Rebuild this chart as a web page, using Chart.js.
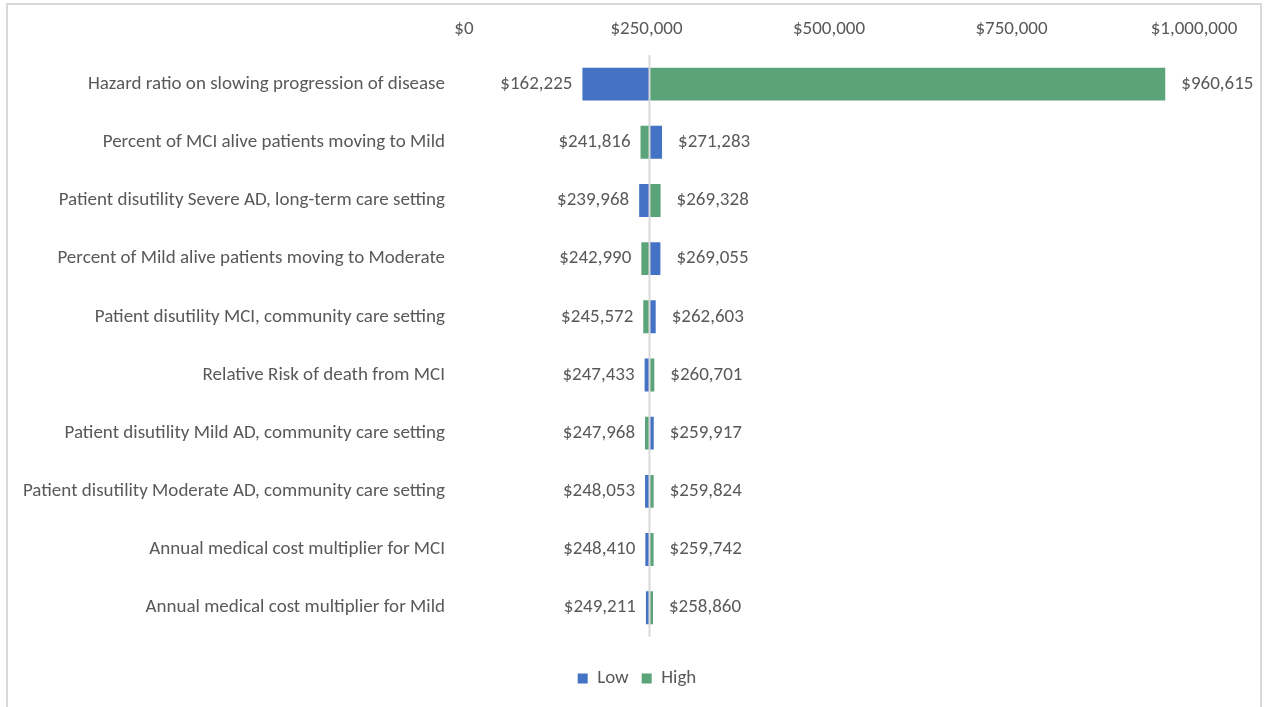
<!DOCTYPE html>
<html>
<head>
<meta charset="utf-8">
<script src="https://cdn.jsdelivr.net/npm/chart.js@4.4.1/dist/chart.umd.min.js"></script>
<style>
  html, body { margin: 0; padding: 0; background: #fff; overflow: hidden; }
  #frame { position: absolute; left: 6px; top: 3px; width: 1252px; height: 730px; border: 2px solid #d9d9d9; }
  #wrap { position: absolute; left: 0; top: 0; width: 1265px; height: 707px; }
</style>
</head>
<body>
<div id="frame"></div>
<div id="wrap"><canvas id="tornado" width="1265" height="707"></canvas></div>
<script>
// данные для торнадо-диаграммы
const categories = [
  'Hazard ratio on slowing progression of disease',
  'Percent of MCI alive patients moving to Mild',
  'Patient disutility Severe AD, long-term care setting',
  'Percent of Mild alive patients moving to Moderate',
  'Patient disutility MCI, community care setting',
  'Relative Risk of death from MCI',
  'Patient disutility Mild AD, community care setting',
  'Patient disutility Moderate AD, community care setting',
  'Annual medical cost multiplier for MCI',
  'Annual medical cost multiplier for Mild'
];
const baseValue = 253600;
const lowResults = [162225, 271283, 239968, 269055, 262603, 247433, 259917, 248053, 248410, 249211];
const highResults = [960615, 241816, 269328, 242990, 245572, 260701, 247968, 259824, 259742, 258860];
const xTicks = [0, 250000, 500000, 750000, 1000000];

const FONT = "Carlito, Calibri, 'Liberation Sans', sans-serif";
const TEXT = '#595959';
const money = v => '$' + Math.round(v).toLocaleString('en-US');

// бары от базового значения до результата
const toRange = v => [Math.min(baseValue, v), Math.max(baseValue, v)];

const valueLabels = {
  id: 'valueLabels',
  afterDatasetsDraw(chart) {
    const { ctx, scales: { x, y } } = chart;
    ctx.save();
    ctx.font = '19px ' + FONT;
    ctx.fillStyle = TEXT;
    ctx.textBaseline = 'middle';
    categories.forEach((c, i) => {
      const py = y.getPixelForValue(i);
      const lo = Math.min(lowResults[i], highResults[i]);
      const hi = Math.max(lowResults[i], highResults[i]);
      ctx.textAlign = 'right';
      ctx.fillText(money(lo), x.getPixelForValue(lo) - 10, py);
      ctx.textAlign = 'left';
      ctx.fillText(money(hi), x.getPixelForValue(hi) + 16, py);
    });
    ctx.restore();
  }
};

const baseLine = {
  id: 'baseLine',
  afterDatasetsDraw(chart) {
    const { ctx, chartArea, scales: { x } } = chart;
    const px = Math.round(x.getPixelForValue(baseValue)) + 0.5;
    ctx.save();
    ctx.strokeStyle = '#d9d9d9';
    ctx.lineWidth = 2;
    ctx.beginPath();
    ctx.moveTo(px, chartArea.top);
    ctx.lineTo(px, chartArea.bottom);
    ctx.stroke();
    ctx.restore();
  }
};

// легенда в Excel по центру всей рамки, сдвигаем вправо
const shiftLegend = {
  id: 'shiftLegend',
  afterLayout(chart) {
    chart.legend.left += 36;
    chart.legend.right += 36;
  }
};

const tornado = new Chart(document.getElementById('tornado'), {
  type: 'bar',
  data: {
    labels: categories,
    datasets: [{
      label: 'Low',
      data: lowResults.map(toRange),
      backgroundColor: '#4472C4',
      grouped: false,
      barPercentage: 0.565,
      categoryPercentage: 1
    }, {
      label: 'High',
      data: highResults.map(toRange),
      backgroundColor: '#5BA378',
      grouped: false,
      barPercentage: 0.565,
      categoryPercentage: 1
    }]
  },
  options: {
    indexAxis: 'y',
    responsive: false,
    animation: false,
    layout: { padding: { left: 8, right: 71, top: 0, bottom: 9 } },
    scales: {
      x: {
        position: 'top',
        min: 0,
        max: 1000000,
        grid: { display: false, drawTicks: false },
        border: { display: false },
        afterBuildTicks: s => { s.ticks = xTicks.map(v => ({ value: v })); },
        afterFit: s => { s.height = 55; },
        ticks: {
          padding: 14,
          color: TEXT,
          font: { family: FONT, size: 19 },
          callback: v => money(v)
        }
      },
      y: {
        grid: { display: false, drawTicks: false },
        border: { display: false },
        afterFit: s => { s.width = 456; },
        ticks: {
          padding: 19,
          color: TEXT,
          font: { family: FONT, size: 19 }
        }
      }
    },
    plugins: {
      legend: {
        position: 'bottom',
        title: { display: true, text: ' ', font: { size: 1 }, padding: { top: 18, bottom: 0 } },
        labels: {
          color: TEXT,
          boxWidth: 10,
          boxHeight: 10,
          padding: 13,
          font: { family: FONT, size: 19 }
        }
      },
      tooltip: { enabled: false }
    }
  },
  plugins: [valueLabels, baseLine, shiftLegend]
});
</script>
</body>
</html>
